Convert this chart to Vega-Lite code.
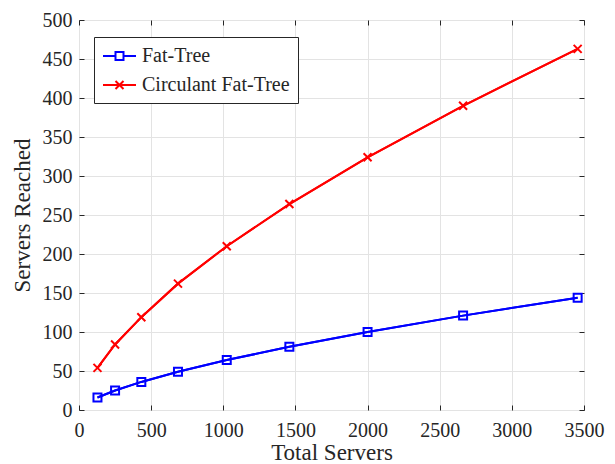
{
  "$schema": "https://vega.github.io/schema/vega-lite/v6.json",
  "width": 505,
  "height": 390,
  "autosize": "none",
  "padding": {"left": 79, "top": 20, "right": 31, "bottom": 54},
  "background": "white",
  "config": {
    "view": {"stroke": "#262626", "strokeWidth": 1},
    "font": "Liberation Serif",
    "axis": {
      "labelFont": "Liberation Serif",
      "titleFont": "Liberation Serif",
      "labelFontSize": 20,
      "titleFontSize": 23,
      "titleFontWeight": "normal",
      "labelColor": "#262626",
      "titleColor": "#262626",
      "gridColor": "#e3e3e3",
      "gridWidth": 1,
      "domain": false,
      "tickColor": "#262626",
      "tickSize": -5,
      "labelFlush": false,
      "format": "d"
    }
  },
  "data": {
    "values": [
      {"servers": 128, "reached": 16, "series": "Fat-Tree"},
      {"servers": 250, "reached": 25, "series": "Fat-Tree"},
      {"servers": 432, "reached": 36, "series": "Fat-Tree"},
      {"servers": 686, "reached": 49, "series": "Fat-Tree"},
      {"servers": 1024, "reached": 64, "series": "Fat-Tree"},
      {"servers": 1458, "reached": 81, "series": "Fat-Tree"},
      {"servers": 2000, "reached": 100, "series": "Fat-Tree"},
      {"servers": 2662, "reached": 121, "series": "Fat-Tree"},
      {"servers": 3456, "reached": 144, "series": "Fat-Tree"},
      {"servers": 128, "reached": 54, "series": "Circulant Fat-Tree"},
      {"servers": 250, "reached": 84, "series": "Circulant Fat-Tree"},
      {"servers": 432, "reached": 119, "series": "Circulant Fat-Tree"},
      {"servers": 686, "reached": 162, "series": "Circulant Fat-Tree"},
      {"servers": 1024, "reached": 210, "series": "Circulant Fat-Tree"},
      {"servers": 1458, "reached": 264, "series": "Circulant Fat-Tree"},
      {"servers": 2000, "reached": 324, "series": "Circulant Fat-Tree"},
      {"servers": 2662, "reached": 390, "series": "Circulant Fat-Tree"},
      {"servers": 3456, "reached": 463, "series": "Circulant Fat-Tree"}
    ]
  },
  "layer": [
    {
      "mark": {"type": "line", "strokeWidth": 2},
      "encoding": {
        "x": {"field": "servers", "type": "quantitative", "scale": {"domain": [0, 3500], "nice": false},
              "axis": {"title": "Total Servers", "values": [0,500,1000,1500,2000,2500,3000,3500], "labelPadding": 15, "titlePadding": 1}},
        "y": {"field": "reached", "type": "quantitative", "scale": {"domain": [0, 500], "nice": false},
              "axis": {"title": "Servers Reached", "values": [0,50,100,150,200,250,300,350,400,450,500], "labelPadding": 12, "titlePadding": 8}},
        "color": {"field": "series", "type": "nominal",
                  "scale": {"domain": ["Fat-Tree", "Circulant Fat-Tree"], "range": ["#0000ff", "#ff0000"]},
                  "legend": {
                    "title": null, "orient": "none", "legendX": 15, "legendY": 17,
                    "strokeColor": "#262626", "fillColor": "white", "padding": 8,
                    "labelFont": "Liberation Serif", "labelFontSize": 20, "labelColor": "#262626",
                    "symbolSize": 400, "symbolStrokeWidth": 2, "rowPadding": 8, "labelOffset": 18,
                    "encode": {"symbols": {"update": {
                      "shape": {"signal": "datum.value === 'Fat-Tree' ? 'M-1,0H0.25M1.05,0H2.3M0.25,-0.4H1.05V0.4H0.25Z' : 'M-1,0H2.3M0.25,-0.4L1.05,0.4M0.25,0.4L1.05,-0.4'"},
                      "fill": {"value": "transparent"}
                    }}}
                  }}
      }
    },
    {
      "transform": [{"filter": "datum.series === 'Fat-Tree'"}],
      "mark": {"type": "point", "filled": false, "strokeWidth": 2, "opacity": 1, "shape": "square", "size": 64},
      "encoding": {
        "x": {"field": "servers", "type": "quantitative", "axis": null},
        "y": {"field": "reached", "type": "quantitative", "axis": null},
        "color": {"field": "series", "type": "nominal", "legend": null}
      }
    },
    {
      "transform": [{"filter": "datum.series === 'Circulant Fat-Tree'"}],
      "mark": {"type": "point", "filled": false, "strokeWidth": 2, "opacity": 1, "shape": "M-1,-1L1,1M-1,1L1,-1", "size": 64},
      "encoding": {
        "x": {"field": "servers", "type": "quantitative", "axis": null},
        "y": {"field": "reached", "type": "quantitative", "axis": null},
        "color": {"field": "series", "type": "nominal", "legend": null}
      }
    },
    {
      "mark": {"type": "line", "strokeWidth": 2},
      "encoding": {
        "x": {"field": "servers", "type": "quantitative",
              "axis": {"orient": "top", "title": null, "labels": false, "grid": false, "values": [0,500,1000,1500,2000,2500,3000,3500]}},
        "y": {"field": "reached", "type": "quantitative",
              "axis": {"orient": "right", "title": null, "labels": false, "grid": false, "values": [0,50,100,150,200,250,300,350,400,450,500]}},
        "color": {"field": "series", "type": "nominal", "legend": null}
      }
    }
  ],
  "resolve": {"axis": {"x": "independent", "y": "independent"}}
}
